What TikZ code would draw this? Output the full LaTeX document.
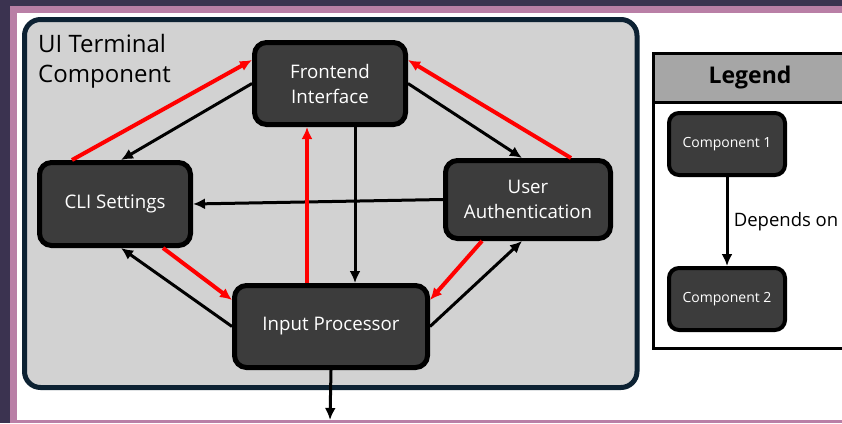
\documentclass[tikz,border=0pt]{standalone}
\usepackage{fontspec}
\setmainfont{Open Sans}
\usetikzlibrary{arrows.meta}
\definecolor{nightbg}{HTML}{3B3350}
\definecolor{mauve}{HTML}{B97FA6}
\definecolor{navy}{HTML}{0D2233}
\definecolor{panel}{HTML}{D2D2D2}
\definecolor{boxfill}{HTML}{3C3C3C}
\definecolor{headgrey}{HTML}{A6A6A6}
\tikzset{
  comp/.style={draw=black,line width=5pt,fill=boxfill,rounded corners=12pt,text=white,align=center,inner sep=0pt,font=\fontsize{18.7}{25}\selectfont},
  legcomp/.style={comp,line width=4pt,rounded corners=10pt,font=\fontsize{14}{17}\selectfont},
  dep/.style={-{Latex[length=12pt,width=11pt]},line width=3pt,black},
  reddep/.style={dep,red,line width=4pt},
}
\begin{document}
\begin{tikzpicture}[x=1pt,y=-1pt]
        \useasboundingbox (0,0) rectangle (842,423);
        \clip (0,0) rectangle (842,423);
        \fill[nightbg] (0,0) rectangle (842,423);
        \fill[mauve] (10,6) rectangle (842,423);
        \fill[white] (17,13) rectangle (842,420);
        \draw[navy,line width=5pt,fill=panel,rounded corners=16pt] (24.5,19.5) rectangle (637,387.5);
        \node[anchor=north west,inner sep=0pt,align=left,font=\fontsize{24}{30}\selectfont] (title) at (38,34) {UI Terminal\\Component};
        \node[comp,minimum width=151pt,minimum height=82pt] (fe) at (330,83.5) {Frontend\\Interface};
        \node[comp,minimum width=151pt,minimum height=83pt] (cli) at (115,204) {CLI Settings};
        \node[comp,minimum width=165pt,minimum height=78pt] (ua) at (528,199.5) {User\\Authentication};
        \node[comp,minimum width=193pt,minimum height=82pt] (ip) at (331,326.5) {Input Processor};
        \coordinate (out) at (330,420);
        \draw[dep] (fe.west) -- ([xshift=6pt]cli.north);
        \draw[dep] (fe.east) -- ([xshift=-6pt]ua.north);
        \draw[dep] ([xshift=24pt]ip.north |- fe.south) -- ([xshift=24pt]ip.north);
        \draw[dep] (ua.west) -- (cli.east);
        \draw[dep] (ip.west) -- ([xshift=6pt]cli.south);
        \draw[dep] (ip.east) -- ([xshift=-6pt]ua.south);
        \draw[dep] (ip.south) -- (out);
        \draw[reddep] ([xshift=-43pt]cli.north) -- ([yshift=23.5pt]fe.west);
        \draw[reddep] ([xshift=43pt]ua.north) -- ([yshift=23.5pt]fe.east);
        \draw[reddep] ([xshift=-24pt]ip.north) -- ([xshift=-24pt]ip.north |- fe.south);
        \draw[reddep] ([xshift=48pt]cli.south) -- ([yshift=26.5pt]ip.west);
        \draw[reddep] ([xshift=-46pt]ua.south) -- ([yshift=26.5pt]ip.east);
        \fill[headgrey] (653.5,53.5) rectangle (860,102);
        \draw[line width=3pt] (653.5,53.5) rectangle (860,348.5);
        \draw[line width=3pt] (653.5,102) -- (860,102);
        \node[font=\bfseries\fontsize{23}{27}\selectfont] (legend) at (750,78) {Legend};
        \node[legcomp,minimum width=116pt,minimum height=62pt] (c1) at (727,144) {Component 1};
        \node[legcomp,minimum width=116pt,minimum height=62pt] (c2) at (727,299) {Component 2};
        \draw[dep] (c1.south) -- node[right=2pt,font=\fontsize{18.5}{22}\selectfont] {Depends on} (c2.north);
\end{tikzpicture}
\end{document}
